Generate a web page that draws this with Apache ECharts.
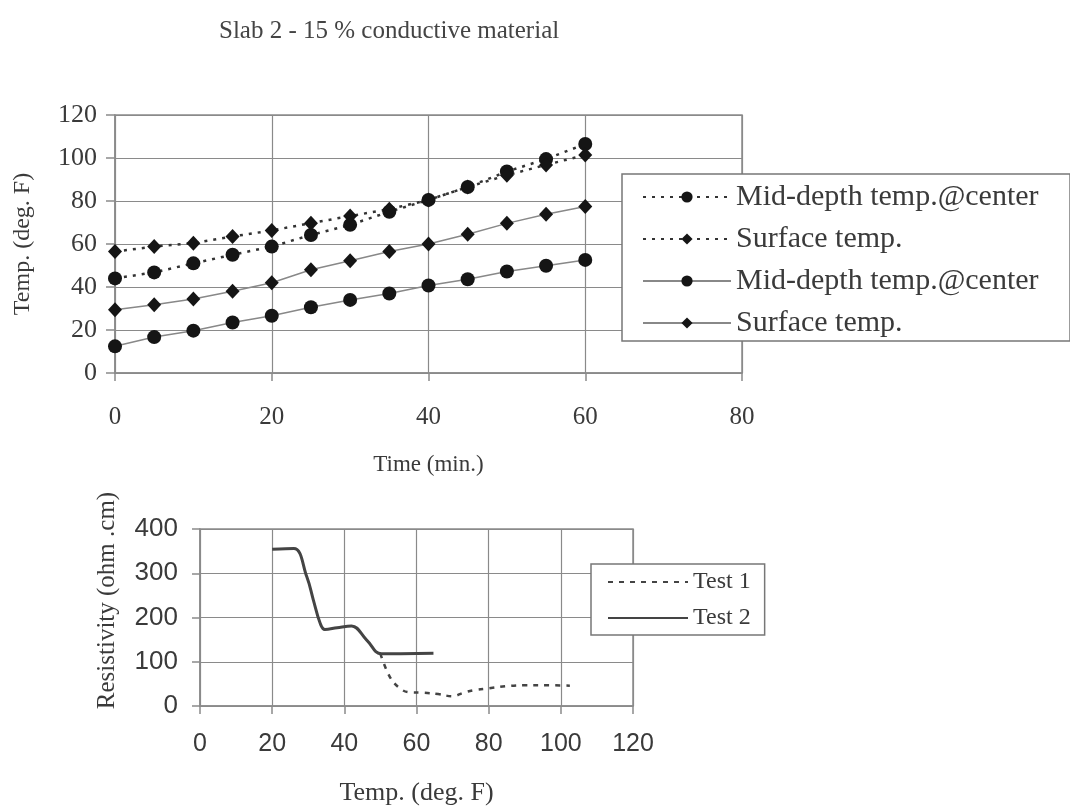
<!DOCTYPE html>
<html>
<head>
<meta charset="utf-8">
<script src="https://cdn.jsdelivr.net/npm/echarts@6/dist/echarts.min.js"></script>
<style>
html,body{margin:0;padding:0;background:#fff;}
#chart{width:1070px;height:810px;}
</style>
</head>
<body>
<div id="chart"></div>
<script>
// ---- Top chart data: temperature vs time ----
const timeMin = [0, 5, 10, 15, 20, 25, 30, 35, 40, 45, 50, 55, 60];
const midDepthDotted = [44, 46.8, 51, 55, 58.8, 64.2, 68.9, 75, 80.5, 86.5, 93.7, 99.5, 106.5];
const surfaceDotted = [56.5, 58.8, 60.4, 63.5, 66.3, 69.7, 73, 76.2, 80.5, 86.5, 92, 96.8, 101.4];
const midDepthSolid = [12.4, 16.7, 19.7, 23.5, 26.6, 30.6, 34, 37, 40.7, 43.6, 47.2, 49.9, 52.6];
const surfaceSolid = [29.4, 31.7, 34.4, 38, 42, 48, 52.2, 56.5, 60, 64.5, 69.6, 73.8, 77.4];

// ---- Bottom chart data: resistivity vs temperature ----
const test1Temp = [50, 52.6, 55.4, 58, 62, 66, 70, 73, 76, 80, 85, 90, 96, 102.5];
const test1Res = [118, 66, 40, 31, 30, 27, 22, 30, 36, 40, 45, 47, 47, 46];
const test2Temp = [20, 26, 29.6, 31.4, 33.3, 34.6, 38, 42, 46.2, 50.3, 64.7];
const test2Res = [354, 356, 292, 240, 187, 173, 177, 181, 149, 118, 119];

const serif = '"Liberation Serif", "Times New Roman", serif';
const sans = '"Liberation Sans", Arial, sans-serif';
const txt = '#3a3a3a';
const gridC = '#8a8a8a';

function pairs(xs, ys) { return xs.map((x, i) => [x, ys[i]]); }

const chart = echarts.init(document.getElementById('chart'));
const MID = 'Mid-depth temp.@center';
const SURF = 'Surface temp.';
chart.setOption({
  animation: false,
  backgroundColor: '#fff',
  title: {
    text: 'Slab 2 - 15 % conductive material',
    left: 214, top: 14,
    textStyle: { fontFamily: serif, fontSize: 25, fontWeight: 'normal', color: '#444' }
  },
  grid: [
    { left: 115, top: 115, width: 627, height: 258, show: true, borderColor: gridC, borderWidth: 1.5, backgroundColor: 'transparent' },
    { left: 200, top: 529, width: 433, height: 177, show: true, borderColor: gridC, borderWidth: 1.5, backgroundColor: 'transparent' }
  ],
  legend: [
    {
      data: [MID, SURF, MID + ' ', SURF + ' '],
      orient: 'vertical', left: 622, top: 174,
      itemWidth: 88, itemHeight: 14, itemGap: 12,
      padding: [8, 24, 3, 20],
      backgroundColor: '#fff', borderColor: '#777', borderWidth: 1.5,
      textStyle: { fontFamily: serif, fontSize: 30, color: txt }
    },
    {
      data: ['Test 1', 'Test 2'],
      orient: 'vertical', left: 591, top: 564,
      itemWidth: 80, itemHeight: 14, itemGap: 12,
      padding: [6, 14, 5, 16],
      itemStyle: { opacity: 0 },
      backgroundColor: '#fff', borderColor: '#777', borderWidth: 1.5,
      textStyle: { fontFamily: serif, fontSize: 24, color: txt }
    }
  ],
  xAxis: [
    {
      gridIndex: 0, type: 'value', min: 0, max: 80, interval: 20,
      name: 'Time (min.)', nameLocation: 'middle', nameGap: 80,
      nameTextStyle: { fontFamily: serif, fontSize: 23, color: txt },
      axisLine: { show: true, lineStyle: { color: gridC, width: 1.5 } },
      axisTick: { show: true, length: 8, lineStyle: { color: gridC, width: 1.5 } },
      axisLabel: { fontFamily: serif, fontSize: 25, color: txt, margin: 32 },
      splitLine: { show: true, lineStyle: { color: gridC, width: 1.2 } }
    },
    {
      gridIndex: 1, type: 'value', min: 0, max: 120, interval: 20,
      name: 'Temp. (deg. F)', nameLocation: 'middle', nameGap: 74,
      nameTextStyle: { fontFamily: serif, fontSize: 26, color: txt },
      axisLine: { show: true, lineStyle: { color: gridC, width: 1.5 } },
      axisTick: { show: true, length: 8, lineStyle: { color: gridC, width: 1.5 } },
      axisLabel: { fontFamily: sans, fontSize: 25, color: txt, margin: 26 },
      splitLine: { show: true, lineStyle: { color: gridC, width: 1.2 } }
    }
  ],
  yAxis: [
    {
      gridIndex: 0, type: 'value', min: 0, max: 120, interval: 20,
      name: 'Temp. (deg. F)', nameLocation: 'middle', nameGap: 80,
      nameTextStyle: { fontFamily: serif, fontSize: 24, color: txt },
      axisLine: { show: true, lineStyle: { color: gridC, width: 1.5 } },
      axisTick: { show: true, length: 9, lineStyle: { color: gridC, width: 1.5 } },
      axisLabel: { fontFamily: serif, fontSize: 26, color: txt, margin: 18 },
      splitLine: { show: true, lineStyle: { color: gridC, width: 1.2 } }
    },
    {
      gridIndex: 1, type: 'value', min: 0, max: 400, interval: 100,
      name: 'Resistivity (ohm .cm)', nameLocation: 'middle', nameGap: 80,
      nameTextStyle: { fontFamily: serif, fontSize: 25, color: txt, padding: [0, 0, 0, 34] },
      axisLine: { show: true, lineStyle: { color: gridC, width: 1.5 } },
      axisTick: { show: true, length: 8, lineStyle: { color: gridC, width: 1.5 } },
      axisLabel: { fontFamily: sans, fontSize: 26, color: txt, margin: 22 },
      splitLine: { show: true, lineStyle: { color: gridC, width: 1.2 } }
    }
  ],
  series: [
    {
      name: MID, type: 'line', xAxisIndex: 0, yAxisIndex: 0,
      data: pairs(timeMin, midDepthDotted),
      symbol: 'circle', symbolSize: 14,
      itemStyle: { color: '#151515' },
      lineStyle: { color: '#333', width: 2.5, type: [3, 6] }
    },
    {
      name: SURF, type: 'line', xAxisIndex: 0, yAxisIndex: 0,
      data: pairs(timeMin, surfaceDotted),
      symbol: 'diamond', symbolSize: [14, 15],
      itemStyle: { color: '#151515' },
      lineStyle: { color: '#333', width: 2.5, type: [3, 6] }
    },
    {
      name: MID + ' ', type: 'line', xAxisIndex: 0, yAxisIndex: 0,
      data: pairs(timeMin, midDepthSolid),
      symbol: 'circle', symbolSize: 14,
      itemStyle: { color: '#151515' },
      lineStyle: { color: '#888', width: 1.5 }
    },
    {
      name: SURF + ' ', type: 'line', xAxisIndex: 0, yAxisIndex: 0,
      data: pairs(timeMin, surfaceSolid),
      symbol: 'diamond', symbolSize: [14, 15],
      itemStyle: { color: '#151515' },
      lineStyle: { color: '#888', width: 1.5 }
    },
    {
      name: 'Test 1', type: 'line', xAxisIndex: 1, yAxisIndex: 1,
      data: pairs(test1Temp, test1Res),
      symbol: 'none', smooth: 0.4,
      itemStyle: { color: '#444' },
      lineStyle: { color: '#444', width: 2.5, type: [5, 6] }
    },
    {
      name: 'Test 2', type: 'line', xAxisIndex: 1, yAxisIndex: 1,
      data: pairs(test2Temp, test2Res),
      symbol: 'none', smooth: 0.4,
      itemStyle: { color: '#444' },
      lineStyle: { color: '#444', width: 3 }
    }
  ]
});
</script>
</body>
</html>
